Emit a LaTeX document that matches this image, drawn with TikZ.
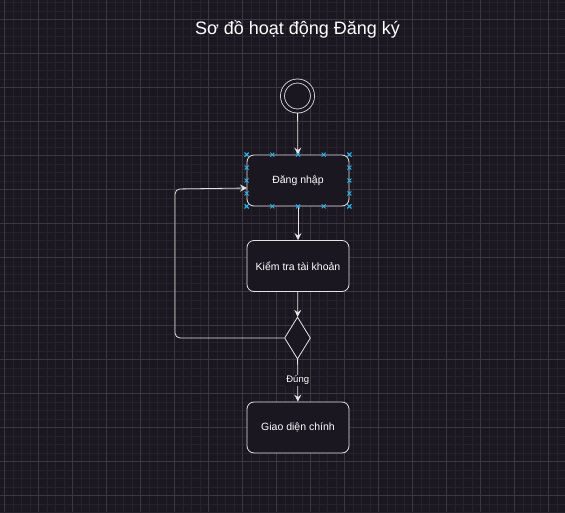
\documentclass[tikz,border=0pt]{standalone}
\usepackage{fontspec}
\setmainfont{Liberation Sans}
\usetikzlibrary{shapes.geometric}
\usetikzlibrary{arrows.meta}
\usetikzlibrary{calc}
\definecolor{bg}{HTML}{1B1720}
\definecolor{gridminor}{HTML}{27232C}
\definecolor{gridmajor}{HTML}{3B383F}
\definecolor{edgec}{HTML}{E4E4E4}
\definecolor{handlec}{HTML}{2AB4EE}
\tikzset{
	flownode/.style = {
		align=center,
		inner sep=0pt,
		text centered,
		text=white,
		font=\fontsize{10.5}{12}\selectfont,
		draw=edgec,
		fill=bg,
		line width=0.8pt
	},
	node_act/.style = {
		flownode,
		rectangle,
		rounded corners=7pt,
		minimum width=102pt,
		minimum height=51pt
	},
	node_start/.style = {
		flownode,
		circle,
		double=bg,
		double distance=3.2pt,
		minimum size=30pt,
		outer sep=2pt
	},
	node_choice/.style = {
		flownode,
		diamond,
		minimum width=26pt,
		minimum height=42pt
	},
	node_label/.style = {
		inner sep=1pt,
		text=white,
		fill=bg,
		font=\fontsize{9.5}{11}\selectfont
	},
	flow/.style = {
		->,
		draw=edgec,
		line width=0.8pt
	},
	handle/.style = {
		draw=handlec,
		line width=0.9pt
	}
}

\begin{document}
\begin{tikzpicture}[x=1pt,y=-1pt,>={Stealth[length=7pt,width=7pt,inset=2.5pt]}]
\useasboundingbox (0,0) rectangle (565,512);
\fill[bg] (0,0) rectangle (565,512);
% grid
\foreach \i in {0,...,66}
	\draw[gridminor, line width=0.6pt] (4.3+8.5*\i,0) -- (4.3+8.5*\i,512);
\foreach \i in {0,...,60}
	\draw[gridminor, line width=0.6pt] (0,2.3+8.5*\i) -- (565,2.3+8.5*\i);
\foreach \i in {0,...,16}
	\draw[gridmajor, line width=0.7pt] (4.3+34*\i,0) -- (4.3+34*\i,512);
\foreach \i in {0,...,15}
	\draw[gridmajor, line width=0.7pt] (0,19.3+34*\i) -- (565,19.3+34*\i);

\node [text=white, font=\fontsize{18}{21}\selectfont] (title) at (297.5,29) {Sơ đồ hoạt động Đăng ký};

\node [node_start] (start) at (297.5,96) {};
\node [node_act] (login) at (298,180.5) {Đăng nhập};
\node [node_act] (check) at (298,266) {Kiểm tra tài khoản};
\node [node_choice] (choice) at (297.5,338) {};
\node [node_act] (home) at (298,427.5) {Giao diện chính};

\coordinate (loop_turn) at (175,189);
\coordinate (loop_in) at (247,188);

\draw [flow] (start) -- (login);
\draw [flow] (login) -- (check);
\draw [flow] (check) -- (choice);
\draw [flow] (choice) -- node [node_label] (yes) {Đúng} (home);
\draw [flow, rounded corners=5pt] (choice.west) -| (loop_turn) -- (loop_in);

% selection handles
\foreach \t in {0,0.25,...,1} {
	\coordinate (h) at ($(login.north west)!\t!(login.north east)$);
	\draw [handle] (h) +(-2,-2) -- +(2,2) +(-2,2) -- +(2,-2);
	\coordinate (h) at ($(login.south west)!\t!(login.south east)$);
	\draw [handle] (h) +(-2,-2) -- +(2,2) +(-2,2) -- +(2,-2);
	\coordinate (h) at ($(login.north west)!\t!(login.south west)$);
	\draw [handle] (h) +(-2,-2) -- +(2,2) +(-2,2) -- +(2,-2);
	\coordinate (h) at ($(login.north east)!\t!(login.south east)$);
	\draw [handle] (h) +(-2,-2) -- +(2,2) +(-2,2) -- +(2,-2);
}
\end{tikzpicture}
\end{document}
